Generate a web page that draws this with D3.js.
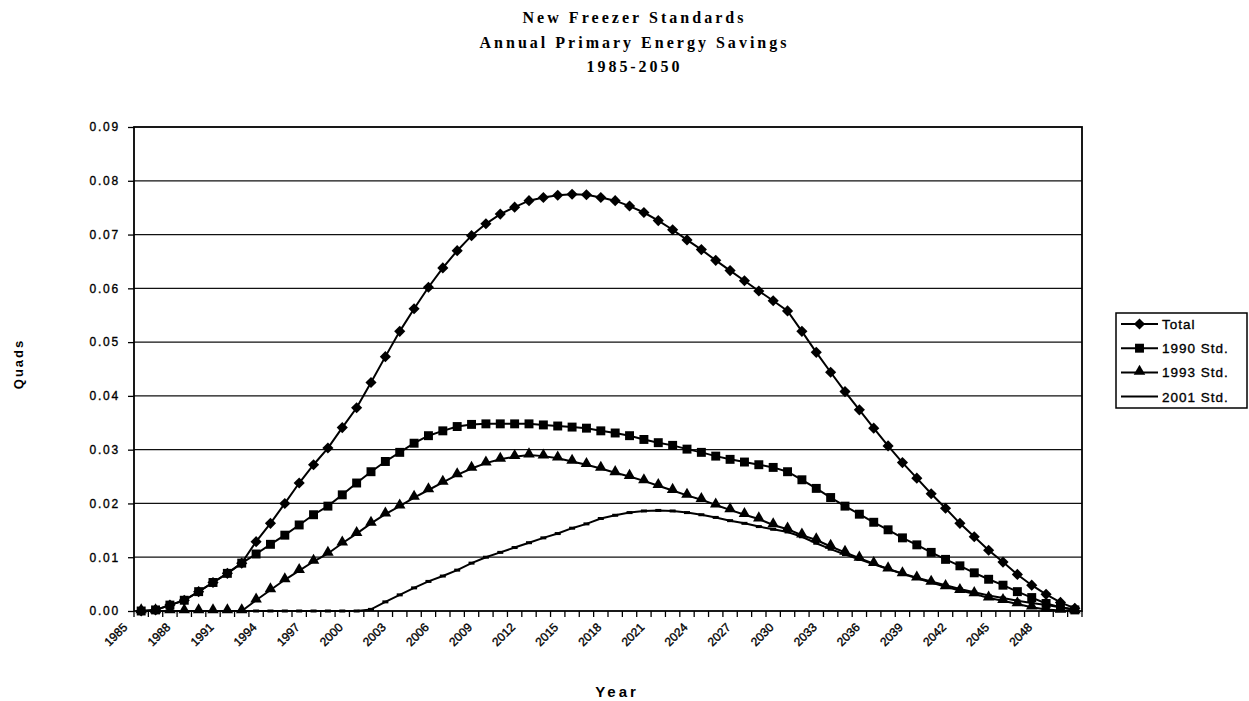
<!DOCTYPE html>
<meta charset="utf-8">
<head>
    <script src="https://d3js.org/d3.v7.min.js"></script>
    <style>
        body { margin: 0; background: #fff; }
        text { fill: #000; }
        .heavy { stroke: #000; stroke-width: 0.35px; }
    </style>
</head>
<body>
<div id="my_dataviz"></div>
</body>

<script>

    // categories (years) and tick labels
    var years = [1985, 1986, 1987, 1988, 1989, 1990, 1991, 1992, 1993, 1994, 1995, 1996, 1997, 1998, 1999,
        2000, 2001, 2002, 2003, 2004, 2005, 2006, 2007, 2008, 2009, 2010, 2011, 2012, 2013, 2014, 2015,
        2016, 2017, 2018, 2019, 2020, 2021, 2022, 2023, 2024, 2025, 2026, 2027, 2028, 2029, 2030, 2031,
        2032, 2033, 2034, 2035, 2036, 2037, 2038, 2039, 2040, 2041, 2042, 2043, 2044, 2045, 2046, 2047,
        2048, 2049, 2050];
    var xTickLabels = ["1985", "1988", "1991", "1994", "1997", "2000", "2003", "2006", "2009", "2012", "2015",
        "2018", "2021", "2024", "2027", "2030", "2033", "2036", "2039", "2042", "2045", "2048"];
    var yTicks = [0, 0.01, 0.02, 0.03, 0.04, 0.05, 0.06, 0.07, 0.08, 0.09];

    // series values (quads)
    var total = [0, 0.0002, 0.0011, 0.0020, 0.0036, 0.0053, 0.0070, 0.0089, 0.0129, 0.0163, 0.0200,
        0.0238, 0.0272, 0.0303, 0.0341, 0.0378, 0.0425, 0.0473, 0.0520, 0.0562, 0.0602, 0.0638, 0.0670,
        0.0698, 0.0720, 0.0738, 0.0751, 0.0763, 0.0769, 0.0773, 0.0775, 0.0774, 0.0769, 0.0763, 0.0753,
        0.0741, 0.0726, 0.0709, 0.0690, 0.0672, 0.0652, 0.0633, 0.0614, 0.0595, 0.0577, 0.0558, 0.0520,
        0.0481, 0.0444, 0.0408, 0.0374, 0.0340, 0.0307, 0.0276, 0.0247, 0.0218, 0.0191, 0.0163, 0.0138,
        0.0113, 0.0091, 0.0068, 0.0048, 0.0031, 0.0016, 0.0005];
    var std1990 = [0, 0.0002, 0.0011, 0.0020, 0.0036, 0.0053, 0.0070, 0.0089, 0.0106, 0.0124, 0.0141,
        0.0160, 0.0179, 0.0195, 0.0216, 0.0238, 0.0259, 0.0278, 0.0295, 0.0312, 0.0326, 0.0335, 0.0343,
        0.0347, 0.0348, 0.0348, 0.0348, 0.0348, 0.0346, 0.0344, 0.0342, 0.0340, 0.0335, 0.0331, 0.0326,
        0.0319, 0.0313, 0.0308, 0.0301, 0.0295, 0.0288, 0.0282, 0.0277, 0.0272, 0.0267, 0.0259, 0.0244,
        0.0228, 0.0211, 0.0195, 0.0180, 0.0165, 0.0151, 0.0136, 0.0123, 0.0109, 0.0096, 0.0084, 0.0071,
        0.0059, 0.0048, 0.0036, 0.0025, 0.0014, 0.0007, 0.0002];
    var std1993 = [0, 0, 0, 0, 0, 0, 0, 0, 0.0020, 0.0039, 0.0058,
        0.0075, 0.0092, 0.0107, 0.0126, 0.0144, 0.0163, 0.0180, 0.0195, 0.0211, 0.0225, 0.0239, 0.0253,
        0.0265, 0.0275, 0.0282, 0.0287, 0.0290, 0.0288, 0.0284, 0.0278, 0.0272, 0.0265, 0.0257, 0.0250,
        0.0242, 0.0233, 0.0224, 0.0215, 0.0207, 0.0197, 0.0188, 0.0179, 0.0171, 0.0160, 0.0152, 0.0141,
        0.0132, 0.0120, 0.0109, 0.0098, 0.0088, 0.0078, 0.0069, 0.0061, 0.0053, 0.0045, 0.0038, 0.0032,
        0.0024, 0.0019, 0.0013, 0.0007, 0.0003, 0.0001, 0];
    var std2001 = [0, 0, 0, 0, 0, 0, 0, 0, 0, 0, 0,
        0, 0, 0, 0, 0, 0.0003, 0.0017, 0.0030, 0.0043, 0.0055, 0.0065, 0.0076,
        0.0089, 0.0100, 0.0109, 0.0118, 0.0127, 0.0136, 0.0144, 0.0154, 0.0162, 0.0172, 0.0178, 0.0183,
        0.0186, 0.0187, 0.0186, 0.0183, 0.0179, 0.0174, 0.0168, 0.0163, 0.0157, 0.0152, 0.0147, 0.0138,
        0.0126, 0.0115, 0.0105, 0.0096, 0.0087, 0.0078, 0.0070, 0.0062, 0.0055, 0.0048, 0.0041, 0.0035,
        0.0029, 0.0024, 0.0019, 0.0015, 0.0011, 0.0007, 0.0003];

    var seriesNames = ["Total", "1990 Std.", "1993 Std.", "2001 Std."];

    // plot area
    var width = 1249, height = 701;
    var plot = {left: 134, right: 1082, top: 127, bottom: 611};

    var svg = d3.select("#my_dataviz")
        .append("svg")
        .attr("width", width)
        .attr("height", height)
        .style("font-family", "'Liberation Sans', Arial, sans-serif");

    var x = d3.scaleBand()
        .domain(years)
        .range([plot.left, plot.right]);
    var bw = x.bandwidth();
    var cx = function(i) { return x(years[i]) + bw / 2; };

    var y = d3.scaleLinear()
        .domain([0, 0.09])
        .range([plot.bottom, plot.top]);

    // gridlines
    svg.append("g")
        .selectAll("line")
        .data(yTicks.slice(1, -1))
        .enter().append("line")
        .attr("x1", plot.left)
        .attr("x2", plot.right)
        .attr("y1", function(d) { return y(d); })
        .attr("y2", function(d) { return y(d); })
        .attr("stroke", "#111")
        .attr("stroke-width", 1.3);

    // Y axis
    var yAxis = svg.append("g")
        .attr("transform", "translate(" + plot.left + ",0)")
        .call(d3.axisLeft(y).tickValues(yTicks).tickFormat(d3.format(".2f")).tickSize(6).tickPadding(8));
    yAxis.select(".domain").remove();
    yAxis.selectAll(".tick line").attr("stroke", "#000").attr("stroke-width", 1.3);
    yAxis.selectAll(".tick text")
        .attr("class", "heavy")
        .style("font-size", "12px")
        .style("letter-spacing", "1.8px")
        .attr("fill", "#000");

    // X axis: tick marks between categories
    svg.append("g")
        .selectAll("line")
        .data(years.concat([null]))
        .enter().append("line")
        .attr("x1", function(d) { return d === null ? plot.right : x(d); })
        .attr("x2", function(d) { return d === null ? plot.right : x(d); })
        .attr("y1", plot.bottom)
        .attr("y2", plot.bottom + 6)
        .attr("stroke", "#000")
        .attr("stroke-width", 1.3);

    svg.append("g")
        .selectAll("text")
        .data(xTickLabels)
        .enter().append("text")
        .attr("class", "heavy")
        .attr("transform", function(d) {
            return "translate(" + (x(+d) + bw / 2 - 13) + "," + (plot.bottom + 17) + ") rotate(-45)";
        })
        .style("text-anchor", "end")
        .style("font-size", "12px")
        .text(function(d) { return d; });

    // plot frame
    svg.append("rect")
        .attr("x", plot.left)
        .attr("y", plot.top)
        .attr("width", plot.right - plot.left)
        .attr("height", plot.bottom - plot.top)
        .attr("fill", "none")
        .attr("stroke", "#000")
        .attr("stroke-width", 1.8);

    // markers
    var diamond = d3.symbol().type(d3.symbolSquare).size(62);
    var square = d3.symbol().type(d3.symbolSquare).size(80);
    var triangle = d3.symbol().type(d3.symbolTriangle).size(58);

    function drawMarker(g, kind, px, py) {
        if (kind === "diamond") {
            g.append("path").attr("d", diamond()).attr("transform", "translate(" + px + "," + py + ") rotate(45)");
        } else if (kind === "square") {
            g.append("path").attr("d", square()).attr("transform", "translate(" + px + "," + py + ")");
        } else if (kind === "triangle") {
            g.append("path").attr("d", triangle()).attr("transform", "translate(" + px + "," + (py - 1) + ")");
        } else {
            g.append("rect").attr("x", px - 3).attr("y", py - 1.5).attr("width", 6).attr("height", 3);
        }
    }

    var series = [
        {name: seriesNames[0], values: total, marker: "diamond"},
        {name: seriesNames[1], values: std1990, marker: "square"},
        {name: seriesNames[2], values: std1993, marker: "triangle"},
        {name: seriesNames[3], values: std2001, marker: "dash"}
    ];

    var line = d3.line()
        .x(function(d, i) { return cx(i); })
        .y(function(d) { return y(d); });

    series.forEach(function(s) {
        var g = svg.append("g").attr("fill", "#000");
        g.append("path")
            .datum(s.values)
            .attr("d", line)
            .attr("fill", "none")
            .attr("stroke", "#000")
            .attr("stroke-width", 2);
        s.values.forEach(function(v, i) {
            drawMarker(g, s.marker, cx(i), y(v));
        });
    });

    // Add legend
    var legend = svg.append("g")
        .attr("transform", "translate(1116,313)");

    legend.append("rect")
        .attr("width", 131)
        .attr("height", 95)
        .attr("fill", "#fff")
        .attr("stroke", "#000")
        .attr("stroke-width", 1.5);

    series.forEach(function(s, i) {
        var ly = 11 + i * 24.2;
        var g = legend.append("g").attr("fill", "#000");
        g.append("line")
            .attr("x1", 5).attr("x2", 42)
            .attr("y1", ly).attr("y2", ly)
            .attr("stroke", "#000")
            .attr("stroke-width", 2);
        if (s.marker !== "dash") drawMarker(g, s.marker, 23.5, ly);
        legend.append("text")
            .attr("class", "heavy")
            .attr("x", 46)
            .attr("y", ly + 5)
            .style("font-size", "13.5px")
            .style("letter-spacing", "1px")
            .text(s.name);
    });

    // titles
    var titleLines = ["New Freezer Standards", "Annual Primary Energy Savings", "1985-2050"];
    var titleWidths = [221, 307, 93];
    svg.append("g")
        .selectAll("text")
        .data(titleLines)
        .enter().append("text")
        .attr("x", 633)
        .attr("y", function(d, i) { return 23 + i * 24.5; })
        .attr("textLength", function(d, i) { return titleWidths[i]; })
        .attr("lengthAdjust", "spacing")
        .style("text-anchor", "middle")
        .style("font-family", "'Liberation Serif', 'Times New Roman', serif")
        .style("font-weight", "bold")
        .style("font-size", "16px")
        .text(function(d) { return d; });

    // axis titles
    svg.append("text")
        .attr("transform", "translate(23,364) rotate(-90)")
        .style("text-anchor", "middle")
        .style("font-weight", "bold")
        .style("font-size", "13px")
        .style("letter-spacing", "2px")
        .text("Quads");

    svg.append("text")
        .attr("x", 617)
        .attr("y", 697)
        .style("text-anchor", "middle")
        .style("font-weight", "bold")
        .style("font-size", "15px")
        .style("letter-spacing", "3px")
        .text("Year");

</script>
